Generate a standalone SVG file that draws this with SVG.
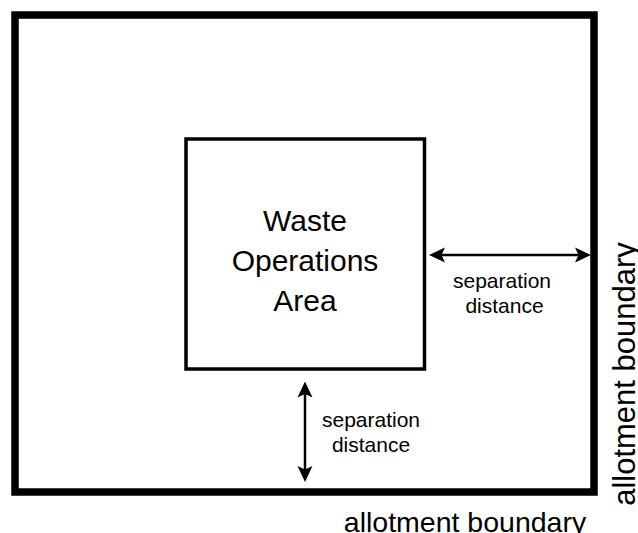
<svg xmlns="http://www.w3.org/2000/svg" width="638" height="533" viewBox="0 0 638 533">
<style>
.lbl{font-family:"Liberation Sans",Arial,sans-serif;fill:#000;text-anchor:middle}
.conn{stroke:#000;stroke-width:2.5;fill:none}
</style>
<defs>
<marker id="ah" markerUnits="userSpaceOnUse" viewBox="0 0 16 16" markerWidth="16" markerHeight="16" refX="6" refY="8" orient="auto-start-reverse">
<path d="M16,8 L0,0.5 L3.5,8 L0,15.5 Z" fill="#000"/>
</marker>
</defs>
<rect width="638" height="533" fill="#fff"/>
<g id="allotment">
<rect x="15" y="15" width="579" height="477" fill="none" stroke="#000" stroke-width="7.5"/>
<text class="lbl" x="465" y="532" font-size="28.5">allotment boundary</text>
<text class="lbl" font-size="31" transform="translate(635,374) rotate(-90)">allotment boundary</text>
</g>
<g id="waste-area">
<rect x="186" y="139" width="238.5" height="230" fill="none" stroke="#000" stroke-width="3.5"/>
<text class="lbl" x="305" y="231" font-size="30">Waste</text>
<text class="lbl" x="305" y="271" font-size="30">Operations</text>
<text class="lbl" x="305" y="311" font-size="30">Area</text>
</g>
<g id="connectors">
<line class="conn" x1="439" y1="255" x2="581" y2="255" marker-start="url(#ah)" marker-end="url(#ah)"/>
<line class="conn" x1="305" y1="391.5" x2="305" y2="472" marker-start="url(#ah)" marker-end="url(#ah)"/>
</g>
<g id="label-right">
<text class="lbl" x="502" y="288" font-size="21">separation</text>
<text class="lbl" x="504.5" y="313" font-size="21">distance</text>
</g>
<g id="label-bottom">
<text class="lbl" x="371" y="427" font-size="21">separation</text>
<text class="lbl" x="371" y="452" font-size="21">distance</text>
</g>
</svg>
